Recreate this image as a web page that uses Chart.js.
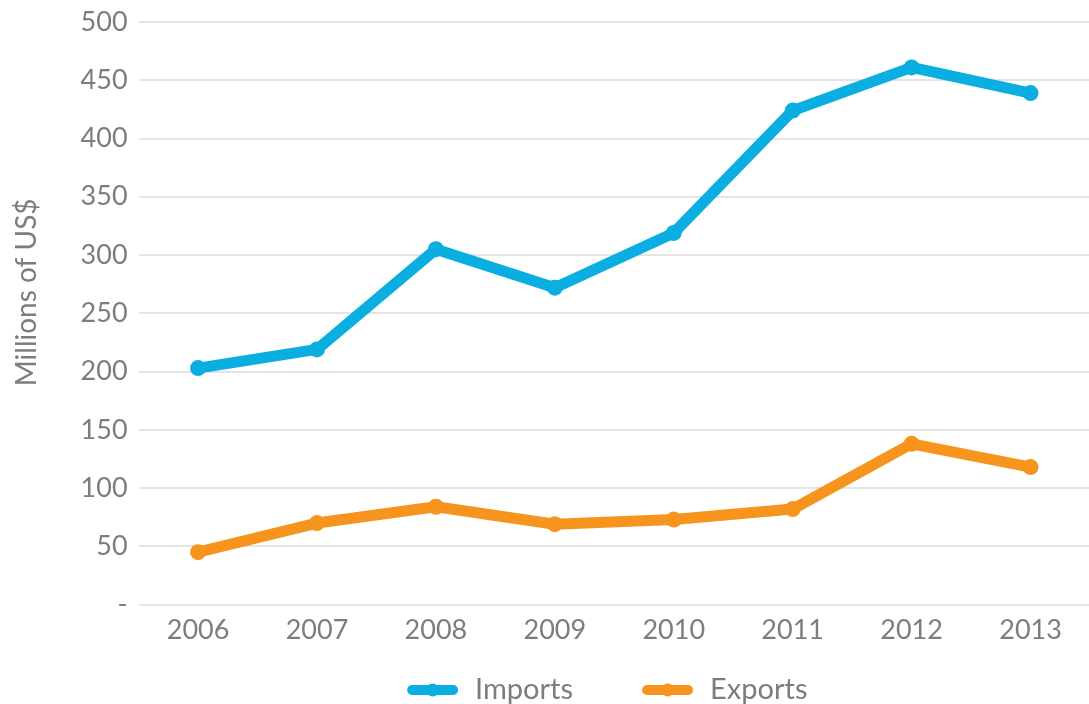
<!DOCTYPE html>
<html>
<head>
<meta charset="utf-8">
<script src="https://cdn.jsdelivr.net/npm/chart.js@4.4.1/dist/chart.umd.min.js"></script>
<style>
  html, body { margin: 0; padding: 0; background: #fff; overflow: hidden; }
  #frame { width: 1089px; height: 704px; overflow: hidden; position: relative; }
  #tradeChart { display: block; }
</style>
</head>
<body>
<!-- the plot is a bit wider than the frame, so the right edge gets cut -->
<div id="frame"><canvas id="tradeChart" width="1098" height="704"></canvas></div>
<script>
const years = ['2006', '2007', '2008', '2009', '2010', '2011', '2012', '2013'];
const imports = [203, 219, 305, 272, 319, 424, 461, 439];
const exports = [45, 70, 84, 69, 73, 82, 138, 118];
const yTicks = [0, 50, 100, 150, 200, 250, 300, 350, 400, 450, 500];

const blue = '#0aaee0';
const orange = '#f7941e';
const grey = '#7d7d7d';
const fontFamily = 'Lato';

// bottom legend: thick line swatch with a dot, then the label
const lineLegend = {
    id: 'lineLegend',
    afterDraw(chart) {
        const c = chart.ctx;
        const sw = 51, gap = 17, spacing = 69;
        const y = 690;
        c.save();
        c.font = '29px ' + fontFamily;
        c.textBaseline = 'middle';
        const items = chart.data.datasets.map(ds => ({
            label: ds.label,
            color: ds.borderColor,
            w: sw + gap + c.measureText(ds.label).width
        }));
        const total = items.reduce((s, it) => s + it.w, 0) + spacing * (items.length - 1);
        const center = (chart.chartArea.left + chart.chartArea.right) / 2 - 7;
        let x = center - total / 2;
        items.forEach(it => {
            c.strokeStyle = it.color;
            c.fillStyle = it.color;
            c.lineWidth = 10;
            c.lineCap = 'round';
            c.beginPath();
            c.moveTo(x + 5, y);
            c.lineTo(x + sw - 5, y);
            c.stroke();
            c.beginPath();
            c.arc(x + sw / 2, y, 6.5, 0, Math.PI * 2);
            c.fill();
            c.fillStyle = grey;
            c.textAlign = 'left';
            c.fillText(it.label, x + sw + gap, y);
            x += it.w + spacing;
        });
        c.restore();
    }
};

const ctx = document.getElementById('tradeChart').getContext('2d');

function series(label, data, color) {
    return {
        label: label,
        data: data,
        borderColor: color,
        backgroundColor: color,
        pointBackgroundColor: color,
        borderWidth: 11,
        pointRadius: 8,
        pointBorderWidth: 0,
        borderJoinStyle: 'round',
        borderCapStyle: 'round',
        tension: 0,
        fill: false
    };
}

const chart = new Chart(ctx, {
    type: 'line',
    data: {
        labels: years,
        datasets: [
            series('Imports', imports, blue),
            series('Exports', exports, orange)
        ]
    },
    plugins: [lineLegend],
    options: {
        responsive: false,
        animation: false,
        layout: { padding: { top: 22, left: 10, right: 0, bottom: 57 } },
        scales: {
            x: {
                offset: true,
                grid: { display: false },
                border: { display: false },
                ticks: {
                    padding: 1,
                    color: grey,
                    font: { family: fontFamily, size: 27 }
                }
            },
            y: {
                min: 0,
                max: 500,
                afterBuildTicks: axis => {
                    axis.ticks = yTicks.map(v => ({ value: v }));
                },
                afterFit: axis => {
                    axis.paddingTop = 0;
                },
                grid: { color: '#e4e4e4', lineWidth: 2, drawTicks: false },
                border: { display: false },
                ticks: {
                    padding: 11,
                    color: grey,
                    font: { family: fontFamily, size: 27 },
                    callback: v => v === 0 ? '-' : v
                },
                title: {
                    display: true,
                    text: '\u2003\u2003Millions of US$',
                    color: grey,
                    font: { family: fontFamily, size: 28 },
                    padding: { top: 0, bottom: 26 }
                }
            }
        },
        plugins: {
            tooltip: { enabled: false },
            legend: { display: false }
        }
    }
});
</script>
</body>
</html>
